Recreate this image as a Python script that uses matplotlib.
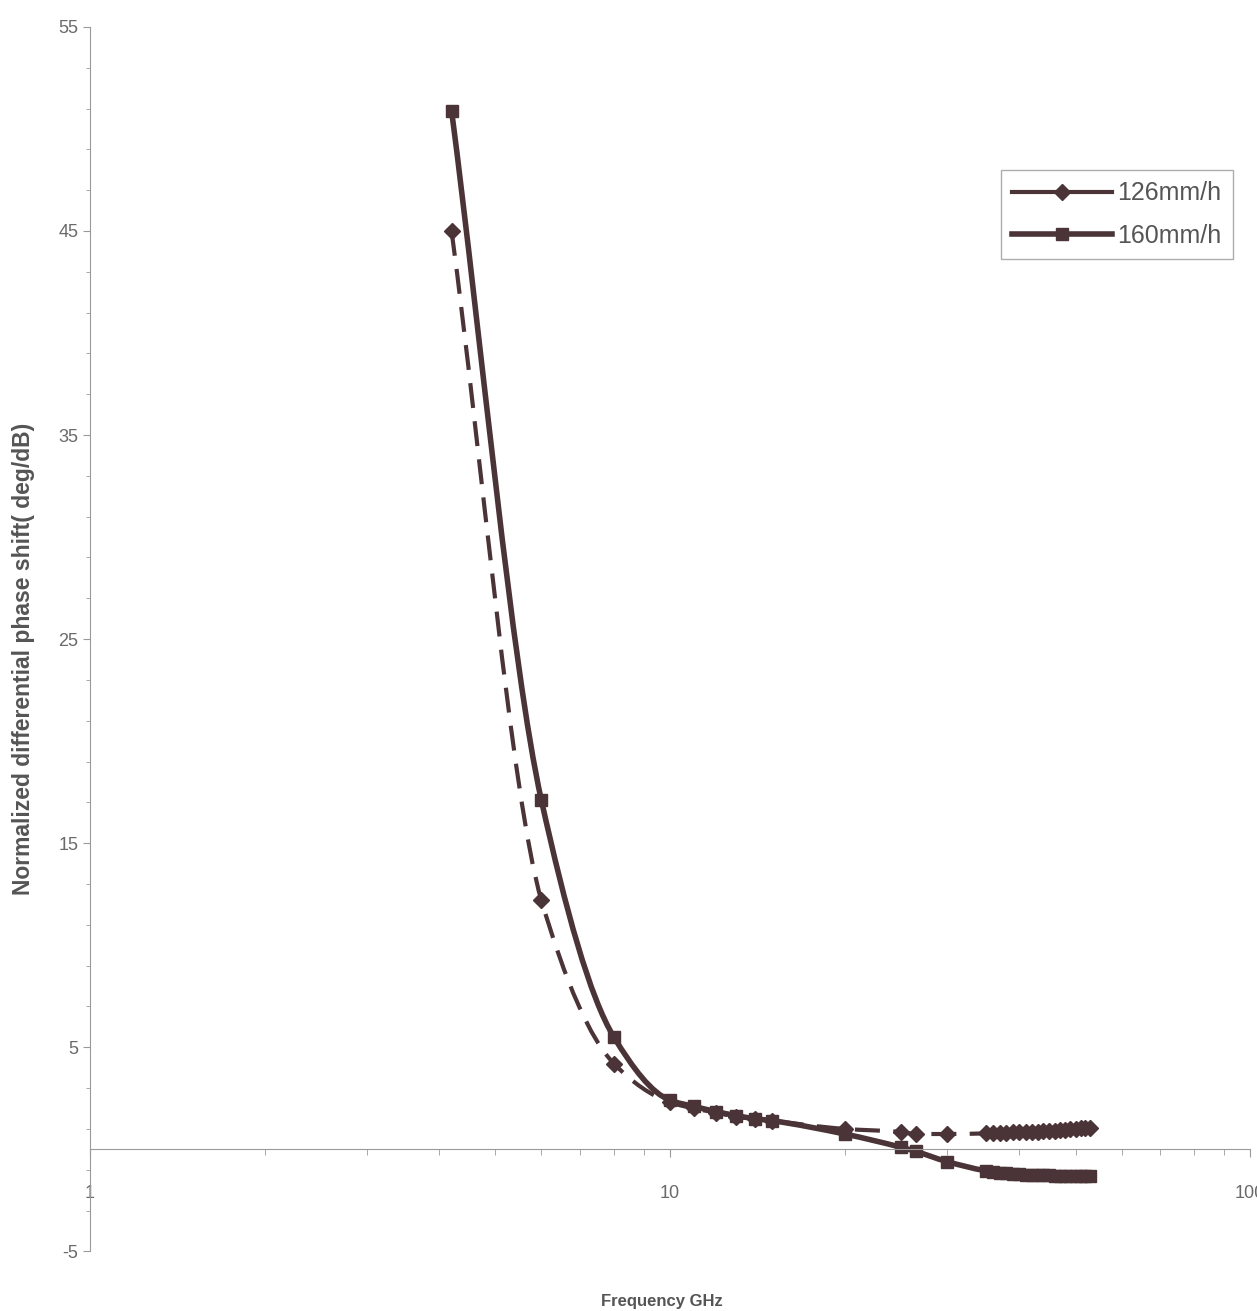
import numpy as np
import matplotlib.pyplot as plt
from matplotlib.path import Path
from matplotlib.patches import PathPatch
from matplotlib.lines import Line2D
from matplotlib.ticker import LogLocator, FixedLocator, NullFormatter

plt.rcParams['font.family'] = ['Liberation Sans', 'DejaVu Sans']
plt.rcParams['axes.unicode_minus'] = False

# frequencies (GHz) and normalized differential phase shift (deg/dB)
freq_126 = [4.2, 6, 8, 10, 11, 12, 13, 14, 15, 20, 25, 26.5, 30,
            35, 36, 37, 38, 39, 40, 41, 42, 43, 44, 45, 46, 47, 48, 49, 50, 51, 52, 53]
phase_126 = [45.0, 12.2, 4.2, 2.3, 2.0, 1.8, 1.6, 1.5, 1.4, 1.0, 0.85, 0.75, 0.75,
             0.78, 0.8, 0.8, 0.82, 0.83, 0.84, 0.85, 0.86, 0.87, 0.88, 0.9, 0.92, 0.94, 0.96, 0.98, 1.0, 1.02, 1.04, 1.05]

freq_160 = [4.2, 6, 8, 10, 11, 12, 13, 14, 15, 20, 25, 26.5, 30,
            35, 36, 37, 38, 39, 40, 41, 42, 43, 44, 45, 46, 47, 48, 49, 50, 51, 52, 53]
phase_160 = [50.9, 17.1, 5.5, 2.4, 2.1, 1.85, 1.65, 1.5, 1.4, 0.75, 0.1, -0.1, -0.6,
             -1.05, -1.1, -1.15, -1.18, -1.2, -1.22, -1.24, -1.25, -1.26, -1.27, -1.28, -1.29, -1.3, -1.3, -1.3, -1.3, -1.3, -1.3, -1.3]

ink = '#4b3438'
gray = '#6a6a6a'


def pchip_slopes(u, v):
    # monotone (Fritsch-Carlson) slopes so the smoothed line never overshoots
    h = np.diff(u)
    d = np.diff(v) / h
    m = np.zeros_like(v)
    for i in range(1, len(v) - 1):
        if d[i - 1] * d[i] > 0:
            w1 = 2 * h[i] + h[i - 1]
            w2 = h[i] + 2 * h[i - 1]
            m[i] = (w1 + w2) / (w1 / d[i - 1] + w2 / d[i])
    m[0] = d[0]
    m[-1] = d[-1]
    return m


# smoothed line through the points as cubic bezier segments,
# worked out in log-x / axes-fraction space
def smooth_path(x, y, xlim=(1, 100), ylim=(-5, 55), aspect=1.054):
    lx0, lx1 = np.log10(xlim[0]), np.log10(xlim[1])
    u = (np.log10(x) - lx0) / (lx1 - lx0)
    v = (np.asarray(y, float) - ylim[0]) / (ylim[1] - ylim[0]) * aspect
    m = pchip_slopes(u, v)
    verts = [(u[0], v[0])]
    codes = [Path.MOVETO]
    for i in range(len(u) - 1):
        h = (u[i + 1] - u[i]) / 3.0
        verts += [(u[i] + h, v[i] + h * m[i]),
                  (u[i + 1] - h, v[i + 1] - h * m[i + 1]),
                  (u[i + 1], v[i + 1])]
        codes += [Path.CURVE4] * 3
    verts = np.array(verts)
    xs = 10 ** (verts[:, 0] * (lx1 - lx0) + lx0)
    ys = verts[:, 1] / aspect * (ylim[1] - ylim[0]) + ylim[0]
    return Path(np.column_stack([xs, ys]), codes)


fig = plt.figure(figsize=(12.57, 13.11), dpi=100)
ax = fig.add_axes([0.0716, 0.0455, 0.923, 0.934])

ax.set_xscale('log')
ax.set_xlim(1, 100)
ax.set_ylim(-5, 55)

ax.add_patch(PathPatch(smooth_path(freq_126, phase_126), fill=False, edgecolor=ink,
                       lw=3.0, ls=(0, (6, 3.2))))
ax.add_patch(PathPatch(smooth_path(freq_160, phase_160), fill=False, edgecolor=ink,
                       lw=4.0, ls='-'))
ax.plot(freq_126, phase_126, ls='none', color=ink, marker='D', ms=8.5)
ax.plot(freq_160, phase_160, ls='none', color=ink, marker='s', ms=8)

# y axis on the left, x axis drawn through zero
for s in ['top', 'right']:
    ax.spines[s].set_visible(False)
ax.spines['left'].set_color('#9a9a9a')
ax.spines['bottom'].set_position(('data', 0))
ax.spines['bottom'].set_color('#9a9a9a')

ax.yaxis.set_major_locator(FixedLocator(np.arange(-5, 56, 10)))
ax.yaxis.set_minor_locator(FixedLocator(np.arange(-5, 56, 2)))
ax.xaxis.set_minor_locator(LogLocator(base=10, subs=np.arange(2, 10)))
ax.xaxis.set_minor_formatter(NullFormatter())
ax.set_xticks([1, 10, 100])
ax.set_xticklabels(['1', '10', '100'])

ax.tick_params(axis='both', which='both', colors='#9a9a9a', labelcolor=gray, labelsize=13)
ax.tick_params(axis='y', which='major', length=5)
ax.tick_params(axis='y', which='minor', length=3)
ax.tick_params(axis='x', which='major', length=6, pad=20)
ax.tick_params(axis='x', which='minor', length=4)

ax.set_ylabel('Normalized differential phase shift( deg/dB)', fontsize=16.5,
              fontweight='bold', color='#555555')
ax.yaxis.set_label_coords(-0.047, 0.484)
ax.set_xlabel('Frequency GHz', fontsize=12, fontweight='bold', color='#555555')
ax.xaxis.set_label_coords(0.493, -0.035)

handles = [Line2D([], [], color=ink, lw=3, marker='D', ms=8),
           Line2D([], [], color=ink, lw=4, marker='s', ms=8)]
leg = ax.legend(handles, ['126mm/h', '160mm/h'], loc='upper left',
                bbox_to_anchor=(0.785, 0.883), fontsize=18, frameon=True,
                fancybox=False, handlelength=4.0, handletextpad=0.2,
                borderpad=0.45, labelspacing=0.75, borderaxespad=0)
leg.get_frame().set_edgecolor('#999999')
leg.get_frame().set_linewidth(1.0)
for t in leg.get_texts():
    t.set_color('#555555')

fig.savefig('out.png', dpi=100)
